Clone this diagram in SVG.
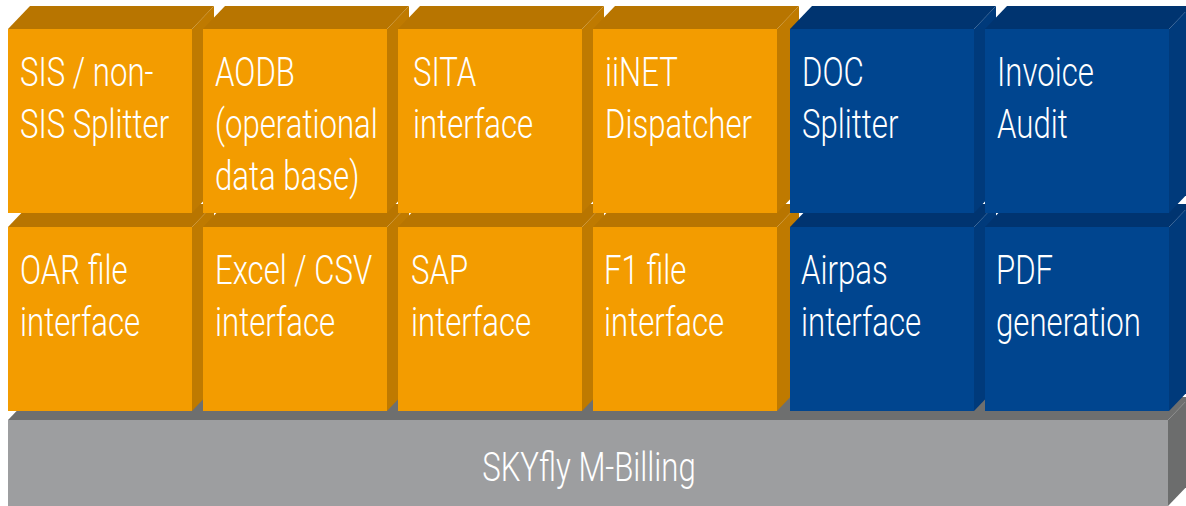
<svg xmlns="http://www.w3.org/2000/svg" width="1186" height="506" viewBox="0 0 1186 506">
<style>
.of{fill:#F39C00}.ot{fill:#B87500}.os{fill:#BF7A00}
.bf{fill:#00458F}.bt{fill:#003470}.bs{fill:#003A7B}
.gf{fill:#9D9EA0}.gt{fill:#6E6F6F}.gs{fill:#6C6D6D}
.lbl{font-family:Roboto,"Liberation Sans",sans-serif;font-weight:300;font-size:41px;fill:#FFFFFF}
</style>
<rect width="1186" height="506" fill="#FFFFFF"/>
<g id="base">
<polygon class="gt" points="8,420 30,397 1190,397 1168,420"/>
<polygon class="gs" points="1168,420 1190,397 1190,483 1168,506"/>
<rect class="gf" x="8" y="420" width="1160" height="90"/>
<text class="lbl" text-anchor="middle" transform="translate(589,481) scale(0.76,1)">SKYfly M-Billing</text>
</g>
<g id="oar">
<polygon class="ot" points="8,227 30,204 214,204 192,227"/><polygon class="os" points="192,227 214,204 214,388 192,411"/><rect class="of" x="8" y="227" width="184" height="184"/>
<text class="lbl" transform="translate(20,284) scale(0.76,1)"><tspan x="0" y="0">OAR file</tspan><tspan x="0" y="52">interface</tspan></text>
</g>
<g id="excel">
<polygon class="ot" points="203,227 225,204 409,204 387,227"/><polygon class="os" points="387,227 409,204 409,388 387,411"/><rect class="of" x="203" y="227" width="184" height="184"/>
<text class="lbl" transform="translate(215,284) scale(0.76,1)"><tspan x="0" y="0">Excel / CSV</tspan><tspan x="0" y="52">interface</tspan></text>
</g>
<g id="sap">
<polygon class="ot" points="398,227 420,204 604,204 582,227"/><polygon class="os" points="582,227 604,204 604,388 582,411"/><rect class="of" x="398" y="227" width="184" height="184"/>
<text class="lbl" transform="translate(411,284) scale(0.76,1)"><tspan x="0" y="0">SAP</tspan><tspan x="0" y="52">interface</tspan></text>
</g>
<g id="f1">
<polygon class="ot" points="593,227 615,204 799,204 777,227"/><polygon class="os" points="777,227 799,204 799,388 777,411"/><rect class="of" x="593" y="227" width="184" height="184"/>
<text class="lbl" transform="translate(604,284) scale(0.76,1)"><tspan x="0" y="0">F1 file</tspan><tspan x="0" y="52">interface</tspan></text>
</g>
<g id="airpas">
<polygon class="bt" points="790,227 812,204 996,204 974,227"/><polygon class="bs" points="974,227 996,204 996,388 974,411"/><rect class="bf" x="790" y="227" width="184" height="184"/>
<text class="lbl" transform="translate(801,284) scale(0.76,1)"><tspan x="0" y="0">Airpas</tspan><tspan x="0" y="52">interface</tspan></text>
</g>
<g id="pdf">
<polygon class="bt" points="985,227 1007,204 1191,204 1169,227"/><polygon class="bs" points="1169,227 1191,204 1191,388 1169,411"/><rect class="bf" x="985" y="227" width="184" height="184"/>
<text class="lbl" transform="translate(996,284) scale(0.76,1)"><tspan x="0" y="0">PDF</tspan><tspan x="0" y="52">generation</tspan></text>
</g>
<g id="sis">
<polygon class="ot" points="8,29 30,6 214,6 192,29"/><polygon class="os" points="192,29 214,6 214,190 192,213"/><rect class="of" x="8" y="29" width="184" height="184"/>
<text class="lbl" transform="translate(20,86) scale(0.76,1)"><tspan x="0" y="0">SIS / non-</tspan><tspan x="0" y="52">SIS Splitter</tspan></text>
</g>
<g id="aodb">
<polygon class="ot" points="203,29 225,6 409,6 387,29"/><polygon class="os" points="387,29 409,6 409,190 387,213"/><rect class="of" x="203" y="29" width="184" height="184"/>
<text class="lbl" transform="translate(215,86) scale(0.76,1)"><tspan x="0" y="0">AODB</tspan><tspan x="0" y="52">(operational</tspan><tspan x="0" y="104">data base)</tspan></text>
</g>
<g id="sita">
<polygon class="ot" points="398,29 420,6 604,6 582,29"/><polygon class="os" points="582,29 604,6 604,190 582,213"/><rect class="of" x="398" y="29" width="184" height="184"/>
<text class="lbl" transform="translate(413,86) scale(0.76,1)"><tspan x="0" y="0">SITA</tspan><tspan x="0" y="52">interface</tspan></text>
</g>
<g id="iinet">
<polygon class="ot" points="593,29 615,6 799,6 777,29"/><polygon class="os" points="777,29 799,6 799,190 777,213"/><rect class="of" x="593" y="29" width="184" height="184"/>
<text class="lbl" transform="translate(605,86) scale(0.76,1)"><tspan x="0" y="0">iiNET</tspan><tspan x="0" y="52">Dispatcher</tspan></text>
</g>
<g id="doc">
<polygon class="bt" points="790,29 812,6 996,6 974,29"/><polygon class="bs" points="974,29 996,6 996,190 974,213"/><rect class="bf" x="790" y="29" width="184" height="184"/>
<text class="lbl" transform="translate(802,86) scale(0.76,1)"><tspan x="0" y="0">DOC</tspan><tspan x="0" y="52">Splitter</tspan></text>
</g>
<g id="invoice">
<polygon class="bt" points="985,29 1007,6 1191,6 1169,29"/><polygon class="bs" points="1169,29 1191,6 1191,190 1169,213"/><rect class="bf" x="985" y="29" width="184" height="184"/>
<text class="lbl" transform="translate(997,86) scale(0.76,1)"><tspan x="0" y="0">Invoice</tspan><tspan x="0" y="52">Audit</tspan></text>
</g>
<g id="connectors"/>
</svg>
